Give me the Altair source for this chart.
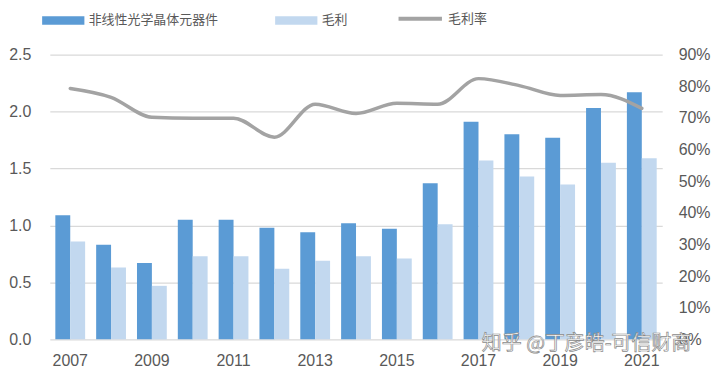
import altair as alt
import pandas as pd

years = [str(y) for y in range(2007, 2022)]
revenue = [1.09, 0.83, 0.67, 1.05, 1.05, 0.98, 0.94, 1.02, 0.97, 1.37, 1.91, 1.80, 1.77, 2.03, 2.17]
gross = [0.86, 0.63, 0.47, 0.73, 0.73, 0.62, 0.69, 0.73, 0.71, 1.01, 1.57, 1.43, 1.36, 1.55, 1.59]
margin = [0.793, 0.765, 0.702, 0.699, 0.699, 0.639, 0.743, 0.714, 0.746, 0.743, 0.824, 0.802, 0.771, 0.774, 0.730]

s1 = "非线性光学晶体元器件"
s2 = "毛利"
s3 = "毛利率"
watermark = "知乎 @丁彦皓-可信财商"

bars = pd.DataFrame(
    [{"year": y, "series": s1, "value": v} for y, v in zip(years, revenue)]
    + [{"year": y, "series": s2, "value": v} for y, v in zip(years, gross)]
)
line = pd.DataFrame({"year": years, "rate": margin, "series": [s3] * len(years)})

LABEL = "#595959"
FONT = "Liberation Sans"
CJK = "Noto Sans CJK SC"

xscale = alt.Scale(paddingInner=0.27, paddingOuter=0.135)
xaxis = alt.Axis(
    values=years[::2], labelAngle=0, domain=False, ticks=False,
    labelPadding=13, labelFontSize=16, labelColor=LABEL, labelFont=FONT, title=None,
)

bar_layer = alt.Chart(bars).mark_bar().encode(
    x=alt.X("year:N", scale=xscale, axis=xaxis, sort=years),
    xOffset=alt.XOffset("series:N", sort=[s1, s2]),
    y=alt.Y(
        "value:Q",
        scale=alt.Scale(domain=[0, 2.5], nice=False),
        axis=alt.Axis(
            values=[0, 0.5, 1.0, 1.5, 2.0, 2.5], format=".1f", domain=False, ticks=False,
            grid=True, gridColor="#D9D9D9", gridWidth=1.2, labelPadding=19,
            labelFontSize=16, labelColor=LABEL, labelFont=FONT, title=None, orient="left",
        ),
    ),
    color=alt.Color(
        "series:N",
        scale=alt.Scale(domain=[s1, s2], range=["#5B9BD5", "#C2D8EF"]),
        legend=alt.Legend(
            title=None, orient="none", legendX=-8, legendY=-56, direction="horizontal",
            symbolType="M-1,-0.2H1V0.2H-1Z", symbolSize=1800, symbolStrokeWidth=0,
            labelFont=CJK, labelFontSize=13, labelColor=LABEL, labelOffset=4,
            columnPadding=56, padding=0,
        ),
    ),
)

line_layer = alt.Chart(line).mark_line(interpolate="monotone", strokeWidth=3.5, strokeCap="round").encode(
    x=alt.X("year:N", scale=xscale, axis=xaxis, sort=years),
    y=alt.Y(
        "rate:Q",
        scale=alt.Scale(domain=[0, 0.9], nice=False),
        axis=alt.Axis(
            values=[i / 10 for i in range(10)], format=".0%", domain=False, ticks=False,
            grid=False, labelPadding=16, labelFontSize=16, labelColor=LABEL,
            labelFont=FONT, title=None, orient="right",
        ),
    ),
    stroke=alt.Stroke(
        "series:N",
        scale=alt.Scale(domain=[s3], range=["#A3A3A3"]),
        legend=alt.Legend(
            title=None, orient="none", legendX=348, legendY=-60, direction="horizontal",
            symbolType="stroke", symbolSize=1900, symbolStrokeWidth=4,
            labelFont=CJK, labelFontSize=13, labelColor=LABEL, labelOffset=4, padding=0,
        ),
    ),
)

wm = alt.Chart(pd.DataFrame({"t": [watermark]})).mark_text(
    font=CJK, fontSize=20, fill="white", stroke="#8a8a8a", strokeWidth=0.7,
    align="center", baseline="middle",
).encode(text="t:N", x=alt.value(539), y=alt.value(291))

chart = (
    alt.layer(bar_layer, line_layer, wm)
    .resolve_scale(y="independent", color="independent", stroke="independent")
    .properties(
        width=615, height=286,
        autosize=alt.AutoSizeParams(type="none"),
        padding={"left": 42, "top": 46, "right": 50, "bottom": 34},
    )
    .configure_view(stroke=None)
)

chart.save("out.html", embed_options={"renderer": "svg", "actions": False})
